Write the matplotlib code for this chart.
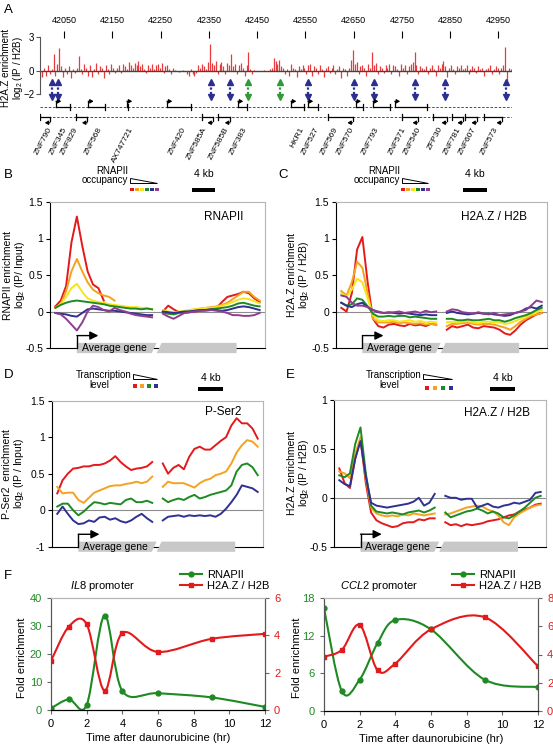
import numpy as np
import matplotlib
matplotlib.use("Agg")
import matplotlib.pyplot as plt
from matplotlib.lines import Line2D
from matplotlib.patches import Polygon, Rectangle, PathPatch
from matplotlib.path import Path

plt.rcParams["font.family"] = ["Liberation Sans", "DejaVu Sans"]
plt.rcParams["mathtext.fontset"] = "custom"
plt.rcParams["mathtext.rm"] = "Liberation Sans"
plt.rcParams["mathtext.it"] = "Liberation Sans:italic"
plt.rcParams["axes.linewidth"] = 0.8

W, H = 553, 749

RED = "#e3191c"
ORANGE = "#f4a21f"
YELLOW = "#f5e51a"
GREEN = "#1d8a22"
BLUE = "#2e3191"
PURPLE = "#8e3d8f"
TRACK_RED = "#e8393c"
ARROW_BLUE = "#2b2f8f"
ARROW_GREEN = "#2e9a3a"
GENE_GRAY = "#c8c8c8"
FRAME_GRAY = "#b5b5b5"

# ---- panel A: H2A.Z/H2B track along chr19 (kb) ----
TRACK_VALUES = [
    -0.7, -0.5, 0.3, -0.4, 0.5, -0.3, 0.2, 1.5, -0.4, 0.6, 2.0, 0.4, -0.5, 0.3, -0.3, 0.4, -0.6, 0.2, -0.2, 0.3,
    1.3, 0.2, -0.3, 0.6, 0.3, -0.4, 0.5, -0.5, 0.2, 0.7, -0.3, 0.4, 0.3, -0.6, 0.5, 0.2, -0.3, 0.6, 0.3, -0.2,
    0.3, 0.5, -0.2, 0.6, 0.4, 0.2, 0.8, 0.5, 0.3, 0.7, 0.5, 0.9, 0.4, 0.6, 0.2, -0.2, 0.5, 0.3, 0.6, 0.2,
    0.5, 0.6, 0.3, 0.7, -0.2, 0.4, 0.5, 0.2, -0.3, 0.3, 0.1, 0.0, -0.1, 0.0, 0.1, 0.0, -0.3, -0.4, 0.2, -0.3,
    -0.4, -0.2, 0.5, 0.3, 0.6, 0.4, 0.2, 0.8, 2.4, 0.7, 0.5, 0.9, -0.3, 0.6, 0.8, 0.4, -0.3, 0.7, 0.5, 1.5,
    0.4, 0.6, -0.3, 0.5, 0.7, 0.3, -0.4, 0.5, 1.7, 0.2, -0.3, 0.1, 0.0, 0.0, 0.0, 0.0, 0.1, 0.0, 0.0, 0.2,
    0.3, 1.1, 0.9, 0.6, 1.0, 0.4, 0.3, -0.3, 0.2, -0.4, 0.6, 0.3, 0.2, -0.5, 0.4, 0.2, 0.5, 0.3, -0.3, 0.5,
    0.6, -0.4, 0.4, 0.3, -0.3, 0.5, 0.2, -0.5, 0.3, 0.4, -0.2, 0.3, 0.5, -0.3, 0.2, 0.4, -0.6, 0.3, 0.2, -0.4,
    0.3, 1.0, 1.8, 0.6, 0.8, -0.3, 0.4, 0.5, 0.3, -0.4, 0.6, 0.3, 1.7, 0.5, 0.7, -0.3, 0.4, 0.3, -0.2, 0.5,
    0.3, 0.6, -0.3, 0.5, 0.4, 0.2, -0.4, 0.6, 0.3, 0.5, -0.3, 0.4, 0.6, 0.8, 1.7, 0.5, -0.3, 0.4, 0.3, 0.2,
    0.4, -0.3, 0.3, 0.5, 0.2, -0.4, 0.5, 0.3, 0.6, 0.9, 0.4, -0.5, 0.3, 0.5, 0.2, -0.3, 0.4, 0.3, 0.5, 0.2,
    0.3, 0.5, -0.3, 0.2, 0.4, 0.3, -0.2, 0.4, 0.2, 0.3, -0.4, 0.2, 0.3, 0.5, -0.3, 0.2, 0.4, 0.3, -0.3, 0.3,
    0.5, 2.1, -1.2, 0.3, 0.2,
]
TRACK_START = 42000
TRACK_STEP = 4
COORD_TICKS = [42050, 42150, 42250, 42350, 42450, 42550, 42650, 42750, 42850, 42950]

ARROW_POS = [42024, 42038, 42354, 42394, 42431, 42497, 42555, 42650, 42692, 42777, 42839, 42965]
ARROW_KIND = ["b", "b", "b", "b", "g", "g", "b", "b", "b", "b", "b", "b"]

FORWARD_GENES = [(42033, 42062), (42100, 42135), (42180, 42183), (42263, 42313), (42410, 42429),
                 (42520, 42547), (42555, 42576), (42654, 42669), (42690, 42725), (42735, 42801)]
REVERSE_GENES = [(42000, 42021), (42075, 42098), (42336, 42358), (42369, 42394), (42596, 42648),
                 (42750, 42783), (42814, 42843), (42853, 42876), (42880, 42905), (42921, 42957)]

GENE_NAMES = ["ZNF790", "ZNF345", "ZNF829", "ZNF568", "AX747721", "ZNF420", "ZNF585A", "ZNF585B",
              "ZNF383", "HKR1", "ZNF527", "ZNF569", "ZNF570", "ZNF793", "ZNF571", "ZNF540", "ZFP30",
              "ZNF781", "ZNF607", "ZNF573"]
GENE_NAME_POS = [42021, 42052, 42075, 42125, 42191, 42300, 42342, 42387, 42425, 42543, 42574, 42615,
                 42648, 42700, 42756, 42787, 42832, 42870, 42901, 42946]

# ---- panels B-E: average gene profiles (19 upstream/TSS bins + 19 TES bins) ----
nan = np.nan
B_RED = [0.07, 0.15, 0.35, 0.95, 1.30, 0.90, 0.55, 0.37, 0.32, 0.15, nan, nan, nan, nan, nan, nan, nan, nan, nan,
         0.0, 0.08, 0.03, -0.01, -0.02, -0.01, 0.0, 0.01, 0.02, 0.03, 0.05, 0.13, 0.20, 0.22, 0.24, 0.27, 0.25, 0.18, 0.13]
B_ORANGE = [0.05, 0.10, 0.28, 0.55, 0.72, 0.55, 0.40, 0.30, 0.25, 0.22, 0.20, 0.15, nan, nan, nan, nan, nan, nan, nan,
            -0.02, -0.03, -0.02, -0.01, 0.0, 0.02, 0.03, 0.04, 0.05, 0.06, 0.07, 0.09, 0.12, 0.17, 0.22, 0.27, 0.27, 0.20, 0.15]
B_YELLOW = [0.05, 0.10, 0.20, 0.32, 0.38, 0.27, 0.18, 0.15, 0.13, 0.12, 0.10, 0.09, 0.08, 0.07, 0.06, 0.06, 0.05, 0.05, 0.03,
            0.02, 0.0, -0.01, 0.0, 0.01, 0.02, 0.03, 0.04, 0.05, 0.05, 0.06, 0.08, 0.10, 0.13, 0.16, 0.18, 0.17, 0.14, 0.11]
B_GREEN = [0.05, 0.09, 0.12, 0.14, 0.15, 0.14, 0.13, 0.12, 0.11, 0.10, 0.08, 0.07, 0.06, 0.05, 0.04, 0.04, 0.03, 0.04, 0.03,
           -0.01, -0.03, -0.04, -0.02, -0.01, 0.0, 0.01, 0.02, 0.02, 0.03, 0.04, 0.05, 0.06, 0.08, 0.11, 0.12, 0.10, 0.08, 0.07]
B_BLUE = [-0.02, -0.03, -0.04, -0.06, -0.07, -0.02, 0.03, 0.04, 0.03, 0.02, 0.01, 0.01, 0.0, -0.01, -0.02, -0.03, -0.04, -0.05, -0.05,
          0.0, -0.01, -0.02, -0.01, 0.0, 0.0, 0.01, 0.02, 0.02, 0.03, 0.02, 0.01, 0.02, 0.04, 0.06, 0.07, 0.06, 0.04, 0.02]
B_PURPLE = [-0.02, -0.04, -0.10, -0.18, -0.26, -0.15, 0.0, 0.08, 0.06, 0.02, 0.0, 0.05, 0.02, 0.0, -0.03, -0.05, -0.06, -0.07, -0.08,
            -0.03, -0.07, -0.10, -0.06, -0.02, -0.01, 0.0, 0.01, 0.01, 0.02, 0.01, 0.0, -0.02, -0.05, -0.05, -0.06, -0.06, -0.05, -0.02]

C_RED = [0.05, 0.0, 0.25, 0.85, 1.02, 0.40, -0.10, -0.20, -0.22, -0.18, -0.17, -0.19, -0.20, -0.17, -0.19, -0.18, -0.20, -0.17, -0.18,
         -0.25, -0.20, -0.22, -0.20, -0.18, -0.22, -0.23, -0.20, -0.21, -0.22, -0.25, -0.30, -0.32, -0.26, -0.18, -0.12, -0.08, -0.04, -0.02]
C_ORANGE = [0.28, 0.22, 0.40, 0.68, 0.60, 0.25, -0.10, -0.15, -0.15, -0.15, -0.14, -0.16, -0.15, -0.16, -0.17, -0.16, -0.18, -0.17, -0.18,
            -0.20, -0.17, -0.17, -0.16, -0.15, -0.17, -0.18, -0.17, -0.17, -0.18, -0.20, -0.22, -0.25, -0.20, -0.14, -0.10, -0.06, -0.04, -0.02]
C_YELLOW = [0.25, 0.20, 0.30, 0.45, 0.40, 0.18, -0.05, -0.12, -0.13, -0.12, -0.12, -0.14, -0.13, -0.12, -0.14, -0.13, -0.15, -0.14, -0.15,
            -0.15, -0.14, -0.15, -0.14, -0.13, -0.15, -0.16, -0.14, -0.14, -0.15, -0.15, -0.17, -0.16, -0.13, -0.10, -0.07, -0.04, -0.01, 0.02]
C_GREEN = [0.12, 0.08, 0.10, 0.18, 0.16, 0.07, -0.03, -0.07, -0.07, -0.06, -0.07, -0.06, -0.06, -0.08, -0.07, -0.08, -0.09, -0.10, -0.10,
           -0.10, -0.10, -0.12, -0.12, -0.11, -0.12, -0.12, -0.11, -0.10, -0.12, -0.12, -0.14, -0.12, -0.09, -0.07, -0.05, -0.02, 0.02, 0.05]
C_BLUE = [0.12, 0.08, 0.06, 0.10, 0.12, 0.06, 0.02, -0.01, -0.02, -0.01, -0.02, -0.03, -0.02, -0.03, -0.04, -0.05, -0.04, -0.05, -0.05,
          -0.02, 0.0, -0.02, -0.03, -0.04, -0.03, -0.02, -0.03, -0.03, -0.04, -0.05, -0.06, -0.05, -0.02, 0.0, 0.04, 0.06, 0.04, 0.08]
C_PURPLE = [0.22, 0.20, 0.12, 0.08, 0.08, 0.06, 0.02, 0.0, -0.02, -0.02, -0.01, 0.0, -0.02, -0.01, 0.0, -0.02, 0.01, -0.01, 0.0,
            0.0, 0.03, 0.02, -0.01, -0.02, -0.03, -0.01, -0.03, -0.04, -0.02, -0.05, -0.04, -0.03, -0.02, 0.0, 0.02, 0.08, 0.15, 0.13]

D_RED = [0.23, 0.41, 0.50, 0.57, 0.58, 0.60, 0.60, 0.62, 0.62, 0.64, 0.68, 0.74, 0.66, 0.60, 0.55, 0.57, 0.58, 0.60, 0.66,
         0.64, 0.50, 0.58, 0.62, 0.56, 0.73, 0.84, 0.87, 0.83, 0.83, 0.89, 0.95, 1.00, 1.16, 1.26, 1.19, 1.19, 1.12, 0.98]
D_ORANGE = [0.32, 0.23, 0.24, 0.24, 0.14, 0.10, 0.17, 0.24, 0.27, 0.30, 0.33, 0.34, 0.34, 0.36, 0.37, 0.39, 0.37, 0.39, 0.46,
            0.32, 0.39, 0.37, 0.37, 0.37, 0.34, 0.31, 0.37, 0.41, 0.43, 0.48, 0.50, 0.53, 0.64, 0.79, 0.89, 0.96, 0.94, 0.87]
D_GREEN = [0.05, 0.09, 0.09, 0.0, -0.07, -0.02, 0.05, 0.11, 0.10, 0.08, 0.10, 0.09, 0.08, 0.14, 0.16, 0.11, 0.11, 0.13, 0.10,
           0.16, 0.11, 0.14, 0.16, 0.14, 0.18, 0.21, 0.16, 0.18, 0.21, 0.23, 0.25, 0.27, 0.34, 0.53, 0.62, 0.64, 0.59, 0.48]
D_BLUE = [-0.05, 0.05, -0.05, -0.14, -0.19, -0.18, -0.14, -0.16, -0.10, -0.09, -0.13, -0.11, -0.15, -0.17, -0.14, -0.09, -0.05, -0.11, -0.16,
          -0.14, -0.09, -0.08, -0.07, -0.09, -0.07, -0.08, -0.07, -0.08, -0.07, -0.09, -0.05, 0.02, 0.11, 0.21, 0.34, 0.32, 0.30, 0.25]

E_RED = [0.30, 0.15, 0.10, 0.40, 0.60, 0.15, -0.15, -0.23, -0.26, -0.28, -0.30, -0.29, -0.26, -0.25, -0.25, -0.22, -0.23, -0.21, -0.21,
         -0.25, -0.28, -0.27, -0.29, -0.27, -0.28, -0.27, -0.26, -0.24, -0.23, -0.22, -0.20, -0.18, -0.17, -0.14, -0.12, -0.10, -0.07, -0.06]
E_ORANGE = [0.27, 0.25, 0.20, 0.45, 0.62, 0.20, -0.10, -0.16, -0.18, -0.19, -0.18, -0.19, -0.17, -0.18, -0.16, -0.17, -0.18, -0.17, -0.16,
            -0.17, -0.16, -0.14, -0.12, -0.10, -0.09, -0.08, -0.09, -0.12, -0.14, -0.18, -0.25, -0.28, -0.20, -0.16, -0.13, -0.10, -0.08, -0.07]
E_GREEN = [0.23, 0.21, 0.25, 0.55, 0.72, 0.25, -0.08, -0.14, -0.15, -0.16, -0.15, -0.16, -0.17, -0.15, -0.14, -0.13, -0.15, -0.13, -0.10,
           -0.15, -0.20, -0.18, -0.16, -0.14, -0.13, -0.11, -0.13, -0.16, -0.14, -0.16, -0.20, -0.21, -0.18, -0.14, -0.10, -0.05, 0.0, 0.02]
E_BLUE = [0.18, 0.14, 0.12, 0.40, 0.58, 0.22, -0.05, -0.08, -0.09, -0.10, -0.09, -0.08, -0.07, -0.06, -0.04, 0.0, -0.08, -0.05, 0.04,
          0.02, 0.0, 0.0, -0.02, -0.01, -0.01, -0.10, -0.08, -0.06, -0.09, -0.10, -0.08, -0.07, -0.05, -0.06, -0.04, -0.02, 0.05, 0.06]

LEFT_POS = np.arange(2.5, 48, 2.5)
RIGHT_POS = np.arange(52.5, 98, 2.5)

# ---- panel F: time course after daunorubicine ----
TIMES = [0, 1, 2, 3, 4, 6, 9, 12]
IL8_RNAPII = [0.6, 3.8, 1.8, 33.7, 6.8, 6.0, 4.5, 1.1]
IL8_H2AZ = [2.63, 4.47, 4.6, 1.04, 4.12, 3.11, 3.81, 4.08]
CCL2_RNAPII = [16.4, 3.15, 5.0, 10.8, 14.5, 13.0, 5.0, 3.8]
CCL2_H2AZ = [3.84, 4.33, 6.1, 2.89, 3.36, 5.78, 6.64, 3.17]


def rect(left, top, right, bottom):
    return [left / W, 1 - bottom / H, (right - left) / W, (bottom - top) / H]


def place_ylabel(ax, text, x, y=0.5, size=7.5):
    ax.set_ylabel(text, fontsize=size, linespacing=1.0)
    ax.yaxis.label.set_verticalalignment("center")
    ax.yaxis.set_label_coords(x, y)


def draw_track(ax):
    pos = TRACK_START + TRACK_STEP * np.arange(len(TRACK_VALUES))
    ax.vlines(pos, 0, TRACK_VALUES, color=TRACK_RED, lw=0.9)
    ax.plot([42000, 42978], [0, 0], color="#444444", lw=1.0)
    ax.set_xlim(42000, 42978)
    ax.set_ylim(-4.5, 3.5)
    for side in ["top", "right", "bottom"]:
        ax.spines[side].set_visible(False)
    ax.spines["left"].set_bounds(-2, 3)
    ax.spines["left"].set_color("#555555")
    ax.set_yticks([-2, 0, 3])
    ax.tick_params(axis="y", labelsize=7, length=3, color="#555555", pad=1)
    ax.xaxis.tick_top()
    ax.set_xticks(COORD_TICKS)
    ax.tick_params(axis="x", direction="in", length=5, labelsize=6.5, pad=4)
    place_ylabel(ax, "H2A.Z enrichment\nlog$_2$ (IP / H2B)", -0.058, 0.6, size=7)
    ax.patch.set_visible(False)

    for x, kind in zip(ARROW_POS, ARROW_KIND):
        col = ARROW_BLUE if kind == "b" else ARROW_GREEN
        ax.plot([x, x], [-1.05, -2.15], color=col, lw=1.6, ls=(0, (1, 1)))
        ax.plot(x, -0.95, marker="^", color=col, ms=4.5)
        ax.plot(x, -2.25, marker="v", color=col, ms=4.5)

    y_fwd, y_rev = -3.16, -4.04
    for y in (y_fwd, y_rev):
        ax.plot([42000, 42978], [y, y], color="#333333", lw=0.6, ls=(0, (3, 2)))
    arrow_kw = dict(arrowstyle="-|>,head_length=0.2,head_width=0.12", lw=0.8, color="k",
                    shrinkA=0, shrinkB=0)
    for s, e in FORWARD_GENES:
        ax.plot([s, e], [y_fwd, y_fwd], color="k", lw=0.9)
        ax.plot([e, e], [y_fwd - 0.25, y_fwd + 0.25], color="k", lw=0.9)
        ax.plot([s, s], [y_fwd, y_fwd + 0.5], color="k", lw=0.9)
        ax.annotate("", xy=(s + 11, y_fwd + 0.5), xytext=(s, y_fwd + 0.5), arrowprops=arrow_kw)
    for s, e in REVERSE_GENES:
        ax.plot([s, e], [y_rev, y_rev], color="k", lw=0.9)
        ax.plot([s, s], [y_rev - 0.25, y_rev + 0.25], color="k", lw=0.9)
        ax.plot([e, e], [y_rev, y_rev - 0.5], color="k", lw=0.9)
        ax.annotate("", xy=(e - 11, y_rev - 0.5), xytext=(e, y_rev - 0.5), arrowprops=arrow_kw)
    for name, x in zip(GENE_NAMES, GENE_NAME_POS):
        ax.text(x, -4.95, name, rotation=62, ha="right", va="center", rotation_mode="anchor",
                fontsize=6, clip_on=False)


def draw_gene_box(ax):
    tr = ax.get_xaxis_transform()
    y0, y1 = -0.035, 0.035
    ax.add_patch(Polygon([(12.5, y0), (12.5, y1), (49.6, y1), (47.3, y0)], closed=True,
                         transform=tr, fc=GENE_GRAY, ec="none", clip_on=False, zorder=3))
    ax.add_patch(Polygon([(49.6, y0), (51.9, y1), (86.8, y1), (86.8, y0)], closed=True,
                         transform=tr, fc=GENE_GRAY, ec="none", clip_on=False, zorder=3))
    ax.text(30.0, 0.0, "Average gene", transform=tr, ha="center", va="center", fontsize=7.5, zorder=4)
    ax.plot([12.5, 12.5], [0.0, 0.085], transform=tr, color="k", lw=1.0, clip_on=False, zorder=4)
    ax.annotate("", xy=(22.5, 0.085), xytext=(12.5, 0.085), xycoords=tr, zorder=4,
                arrowprops=dict(arrowstyle="-|>,head_length=0.5,head_width=0.25", lw=1.0,
                                color="k", shrinkA=0, shrinkB=0))


def profile_panel(ax, curves, colors, ylim, yticks, yticklabels, name, name_xy, ylabel, label_x):
    for vals, col in zip(curves, colors):
        ax.plot(LEFT_POS, vals[:19], color=col, lw=1.4)
        ax.plot(RIGHT_POS, vals[19:], color=col, lw=1.4)
    ax.axhline(0, color="#8c8c8c", lw=0.8, zorder=0)
    ax.set_xlim(0, 100)
    ax.set_ylim(ylim)
    ax.set_xticks([])
    ax.set_yticks(yticks)
    ax.set_yticklabels(yticklabels)
    ax.tick_params(axis="y", labelsize=7.5, length=3, pad=2)
    for side in ["top", "right"]:
        ax.spines[side].set_color(FRAME_GRAY)
    ax.text(name_xy[0], name_xy[1], name, transform=ax.transAxes, ha="center", va="center", fontsize=8.5)
    place_ylabel(ax, ylabel, label_x)
    draw_gene_box(ax)


def smooth_path(x, y):
    pts = np.column_stack([x, y]).astype(float)
    n = len(pts)
    verts = [pts[0]]
    codes = [Path.MOVETO]
    for i in range(n - 1):
        p0 = pts[max(i - 1, 0)]
        p1 = pts[i]
        p2 = pts[i + 1]
        p3 = pts[min(i + 2, n - 1)]
        verts += [p1 + (p2 - p0) / 6, p2 - (p3 - p1) / 6, p2]
        codes += [Path.CURVE4] * 3
    return Path(verts, codes)


def time_panel(ax, green_vals, red_vals, left_ticks, right_ticks, label_x):
    axr = ax.twinx()
    ax.add_patch(PathPatch(smooth_path(TIMES, green_vals), fill=False, ec=GREEN, lw=1.5))
    ax.plot(TIMES, green_vals, "o", color=GREEN, ms=3.5)
    axr.add_patch(PathPatch(smooth_path(TIMES, red_vals), fill=False, ec=RED, lw=1.5))
    axr.plot(TIMES, red_vals, "s", color=RED, ms=3.5)
    ax.set_xlim(0, 12)
    ax.set_xticks(range(0, 13, 2))
    ax.set_ylim(left_ticks[0], left_ticks[-1])
    ax.set_yticks(left_ticks)
    axr.set_ylim(right_ticks[0], right_ticks[-1])
    axr.set_yticks(right_ticks)
    ax.tick_params(axis="y", labelcolor=GREEN, labelsize=8, length=3, color="#666666")
    ax.tick_params(axis="x", labelsize=8, length=3, color="#666666")
    axr.tick_params(axis="y", labelcolor=RED, labelsize=8, length=3, color="#666666")
    for a in (ax, axr):
        a.spines["top"].set_color(FRAME_GRAY)
        a.spines["left"].set_color("#555555")
        a.spines["right"].set_color("#555555")
    ax.set_xlabel("Time after daunorubicine (hr)", fontsize=8, labelpad=3)
    place_ylabel(ax, "Fold enrichment", label_x, 0.47, size=8)
    return axr


def draw_key(key, labels, label_right, label_y, tri, squares, sq_y, colors, kb_x, kb_text_y, kb_bar_y):
    key.text(label_right, label_y[0], labels[0], ha="right", va="center", fontsize=7)
    if labels[0] == "RNAPII":
        key.text(label_right, label_y[1], labels[1], ha="right", va="center", fontsize=7)
    else:
        key.text(label_right - 33, label_y[1], labels[1], ha="center", va="center", fontsize=7)
    x0, x1, ya, yb = tri
    key.add_patch(Polygon([(x0, ya), (x0, yb), (x1, yb)], closed=True, fc="white", ec="k", lw=0.7))
    for xs, col in zip(squares, colors):
        key.add_patch(Rectangle((xs - 1.6, sq_y - 1.6), 3.2, 3.2, fc=col, ec="none"))
    key.text((kb_x[0] + kb_x[1]) / 2, kb_text_y, "4 kb", ha="center", va="center", fontsize=7.5)
    key.add_patch(Rectangle((kb_x[0], kb_bar_y - 2), kb_x[1] - kb_x[0], 4, fc="k", ec="none"))


def main():
    fig = plt.figure(figsize=(W / 100, H / 100), dpi=100)

    ax_a = fig.add_axes(rect(40, 31, 512, 122.3))
    draw_track(ax_a)

    six = [RED, ORANGE, YELLOW, GREEN, BLUE, PURPLE]
    four = [RED, ORANGE, GREEN, BLUE]

    ax_b = fig.add_axes(rect(50, 202, 265, 348))
    profile_panel(ax_b, [B_RED, B_ORANGE, B_YELLOW, B_GREEN, B_BLUE, B_PURPLE], six,
                  (-0.5, 1.5), [-0.5, 0, 0.5, 1, 1.5], ["-0.5", "0", "0.5", "1", "1.5"],
                  "RNAPII", (0.81, 0.9), "RNAPII enrichment\nlog$_2$ (IP/ Input)", -0.163)

    ax_c = fig.add_axes(rect(336, 202, 547, 348))
    profile_panel(ax_c, [C_RED, C_ORANGE, C_YELLOW, C_GREEN, C_BLUE, C_PURPLE], six,
                  (-0.5, 1.5), [-0.5, 0, 0.5, 1, 1.5], ["-0.5", "0", "0.5", "1", "1.5"],
                  "H2A.Z / H2B", (0.75, 0.9), "H2A.Z enrichment\nlog$_2$ (IP / H2B)", -0.175)

    ax_d = fig.add_axes(rect(52, 400.7, 263, 546.7))
    profile_panel(ax_d, [D_RED, D_ORANGE, D_GREEN, D_BLUE], four,
                  (-0.5, 1.5), [-0.5, 0, 0.5, 1, 1.5], ["-1", "0", "0.5", "1", "1.5"],
                  "P-Ser2", (0.81, 0.92), "P-Ser2  enrichment\nlog$_2$ (IP / Input)", -0.18)

    ax_e = fig.add_axes(rect(334, 400, 546, 546.7))
    profile_panel(ax_e, [E_RED, E_ORANGE, E_GREEN, E_BLUE], four,
                  (-0.5, 1.0), [-0.5, 0, 0.5, 1], ["-0.5", "0", "0.5", "1"],
                  "H2A.Z / H2B", (0.77, 0.91), "H2A.Z enrichment\nlog$_2$ (IP / H2B)", -0.165)

    ax_f1 = fig.add_axes(rect(51, 598, 265, 710))
    time_panel(ax_f1, IL8_RNAPII, IL8_H2AZ, [0, 10, 20, 30, 40], [0, 2, 4, 6], -0.135)
    ax_f2 = fig.add_axes(rect(324, 598, 538, 711))
    time_panel(ax_f2, CCL2_RNAPII, CCL2_H2AZ, [0, 6, 12, 18], [0, 2, 4, 6, 8], -0.126)

    handles = [Line2D([], [], color=GREEN, marker="o", ms=3.5, lw=1.5),
               Line2D([], [], color=RED, marker="s", ms=3.5, lw=1.5)]
    for x_left in (180, 452):
        fig.legend(handles, ["RNAPII", "H2A.Z / H2B"], loc="center left",
                   bbox_to_anchor=(x_left / W, 1 - 580.5 / H), frameon=False, fontsize=8,
                   handlelength=2.0, handletextpad=0.4, labelspacing=0.1, borderpad=0,
                   borderaxespad=0)

    key = fig.add_axes([0, 0, 1, 1], zorder=10)
    key.set_xlim(0, W)
    key.set_ylim(H, 0)
    key.axis("off")
    for letter, x, y in [("A", 4, 10), ("B", 4, 175), ("C", 278, 175), ("D", 4, 375),
                         ("E", 286, 375), ("F", 4, 576)]:
        key.text(x, y, letter, ha="left", va="center", fontsize=9.5)

    draw_key(key, ["RNAPII", "occupancy"], 128, (170.5, 180), (130, 157, 177.5, 182.5),
             [132, 137, 142, 147, 152, 157], 189.5, six, (192, 215), 174, 189.5)
    draw_key(key, ["RNAPII", "occupancy"], 400, (170.5, 180), (402, 428, 177.5, 182.5),
             [403, 408, 413, 418, 423, 428], 189.5, six, (463, 487), 174, 189.5)
    draw_key(key, ["Transcription", "level"], 132, (374.5, 384.5), (133, 157, 373.5, 379),
             [135, 142, 149, 156], 386, four, (198, 223), 378, 388.5)
    draw_key(key, ["Transcription", "level"], 422, (374.5, 384.5), (423, 452, 373.5, 379),
             [427, 435, 443, 451], 388, four, (490, 515), 378, 389)

    key.text(70, 586, r"$\it{IL8}$ promoter", ha="left", va="center", fontsize=8)
    key.text(340, 586, r"$\it{CCL2}$ promoter", ha="left", va="center", fontsize=8)

    fig.savefig("out.png", dpi=100)
    plt.close(fig)


if __name__ == "__main__":
    main()
